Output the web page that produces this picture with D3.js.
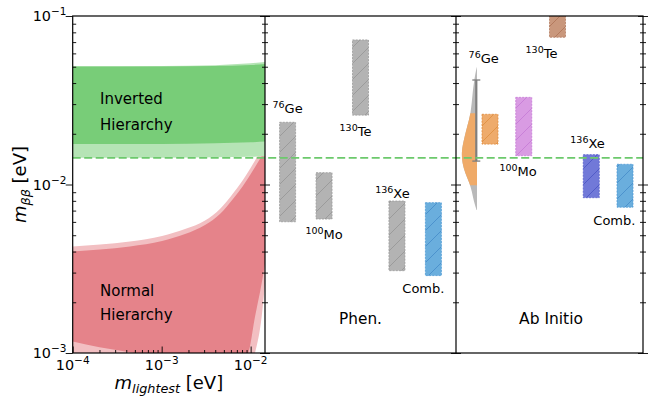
<!DOCTYPE html>
<html>
<head>
<meta charset="utf-8">
<script src="https://cdn.jsdelivr.net/npm/d3@7"></script>
<style>
body { margin: 0; background: #fff; }
text { font-family: "DejaVu Sans", sans-serif; fill: #000; }
</style>
</head>
<body>
<script>
// ---- data ----

// inverted hierarchy band (m_lightest -> m_bb)
const ih_x = [1e-4, 1e-3, 4e-3, 1e-2, 1.45e-2];
const ih_dark_top = [0.0501, 0.0502, 0.0505, 0.0512, 0.0519];
const ih_dark_bot = [0.01738, 0.0174, 0.0176, 0.0178, 0.0180];
const ih_light_top = [0.0503, 0.0505, 0.0511, 0.0524, 0.0533];
const ih_light_bot = [0.0144, 0.0144, 0.0145, 0.0146, 0.0147];

// normal hierarchy band, upper edge
const nh_top_x = [1e-4, 2.03e-4, 4.4e-4, 1.01e-3, 1.83e-3, 3.07e-3, 4.52e-3, 6.33e-3, 8.19e-3, 1.061e-2, 1.448e-2];
const nh_dark_top = [0.00400, 0.00411, 0.00429, 0.00462, 0.00508, 0.00575, 0.00668, 0.00820, 0.00980, 0.01211, 0.01591];
const nh_light_top = [0.00429, 0.00440, 0.00459, 0.00495, 0.00544, 0.00611, 0.00716, 0.00884, 0.01063, 0.01323, 0.01751];
// normal hierarchy band, lower edge (cancellation region)
const nh_bot_x = [1e-4, 2e-4, 4.4e-4, 1e-3, 1.6e-3, 2.7e-3, 4.5e-3, 7.6e-3, 9.4e-3, 1.12e-2, 1.33e-2, 1.45e-2];
const nh_dark_bot = [0.00117, 0.00108, 0.00101, 0.00094, 0.0009, 0.0009, 0.0009, 0.0009, 0.00100, 0.00164, 0.00259, 0.0034];
const nh_light_bot = [0.0008, 0.0008, 0.0008, 0.0008, 0.0008, 0.0008, 0.0008, 0.0008, 0.0008, 0.00100, 0.00164, 0.00259];

// horizontal dashed limit
const limit = 0.0144;

// isotopes
const isotopes = ['Ge', 'Mo', 'Te', 'Xe', 'Comb'];
const mass_numbers = ['76', '100', '130', '136', ''];
const names = ['Ge', 'Mo', 'Te', 'Xe', 'Comb.'];
const phen_lo = [0.00601, 0.00624, 0.0258, 0.00308, 0.00288];
const phen_hi = [0.0234, 0.01175, 0.0721, 0.00798, 0.0078];
const abi_lo = [0.01737, 0.01482, 0.0748, 0.00835, 0.00733];
const abi_hi = [0.0261, 0.0329, 0.12, 0.01503, 0.01318];

// Ge ab initio distribution (half violin)
const ge_dist_m = [0.0500, 0.0447, 0.0349, 0.0265, 0.0219, 0.0176, 0.01538, 0.01343, 0.0117, 0.01021, 0.00902, 0.00809, 0.00706];
const ge_dist_w = [0, 0.13, 0.29, 0.39, 0.65, 0.90, 1.0, 0.95, 0.77, 0.48, 0.32, 0.23, 0.03];
const ge_core = [0.0099, 0.0265];
const ge_err = [0.01377, 0.0417];

// ---- layout ----
const width = 652, height = 397;
const top_y = 16, bottom_y = 353;
const lx0 = 72.7, lx1 = 265, mx1 = 456, rx1 = 643;

const colors = {
    gray:   { fill: '#b3b3b3', hatch: '#909090', edge: '#9a9a9a' },
    blue:   { fill: '#6aaedd', hatch: '#3f85c6', edge: '#4f9ad6' },
    orange: { fill: '#eeab6c', hatch: '#db8a38', edge: '#e08b3c' },
    violet: { fill: '#d99be3', hatch: '#c274d2', edge: '#c77ad6' },
    brown:  { fill: '#c9977c', hatch: '#a96d52', edge: '#b27a5e' },
    indigo: { fill: '#7179d8', hatch: '#444dc0', edge: '#5860cc' }
};
const phen_colors = ['gray', 'gray', 'gray', 'gray', 'blue'];
const abi_colors = ['orange', 'violet', 'brown', 'indigo', 'blue'];

const svg = d3.select('body').append('svg')
    .attr('width', width)
    .attr('height', height);

const defs = svg.append('defs');
const hs = 16;
Object.entries(colors).forEach(([k, c]) => {
    defs.append('pattern')
        .attr('id', 'hatch-' + k)
        .attr('patternUnits', 'userSpaceOnUse')
        .attr('width', hs).attr('height', hs)
        .append('path')
            .attr('d', `M0,${hs} L${hs},0 M-3,3 L3,-3 M${hs - 3},${hs + 3} L${hs + 3},${hs - 3}`)
            .attr('stroke', c.hatch)
            .attr('stroke-width', 0.7)
            .attr('fill', 'none');
});
defs.append('clipPath').attr('id', 'clip-left')
    .append('rect').attr('x', lx0).attr('y', top_y).attr('width', lx1 - lx0).attr('height', bottom_y - top_y);
defs.append('clipPath').attr('id', 'clip-all')
    .append('rect').attr('x', lx0).attr('y', top_y).attr('width', rx1 - lx0).attr('height', bottom_y - top_y);

const y = d3.scaleLog().domain([1e-3, 1e-1]).range([bottom_y, top_y]);
const x = d3.scaleLog().domain([1e-4, 1.45e-2]).range([lx0, lx1]);
const x_phen = d3.scalePoint().domain(isotopes).range([lx1, mx1]).padding(0.62);
const x_abi = d3.scalePoint().domain(isotopes).range([mx1 + 34, rx1 - 18]);

// ---- left panel bands ----
const band = d3.area()
    .x(d => x(d[0]))
    .y0(d => y(d[1]))
    .y1(d => y(d[2]))
    .curve(d3.curveMonotoneX);
const edge = d3.line()
    .x(d => x(d[0]))
    .y(d => y(d[1]))
    .curve(d3.curveMonotoneX);

// closed shape: upper edge left->right, then lower edge right->left
function nh_shape(top, bot) {
    const upper = edge(d3.zip(nh_top_x, top));
    const lower = edge(d3.zip(nh_bot_x, bot).reverse());
    return upper + 'L' + lower.slice(1) + 'Z';
}

const left = svg.append('g').attr('clip-path', 'url(#clip-left)');
left.append('path').attr('d', nh_shape(nh_light_top, nh_light_bot)).attr('fill', '#f2bfc2');
left.append('path').attr('d', nh_shape(nh_dark_top, nh_dark_bot)).attr('fill', '#e5838a');
left.append('path').datum(d3.zip(ih_x, ih_light_bot, ih_light_top)).attr('d', band).attr('fill', '#b5e4b5');
left.append('path').datum(d3.zip(ih_x, ih_dark_bot, ih_dark_top)).attr('d', band).attr('fill', '#78cd78');

const band_text = [['Inverted', 'Hierarchy', 104, 130], ['Normal', 'Hierarchy', 296, 319.5]];
band_text.forEach(t => {
    svg.append('text').attr('x', 100).attr('y', t[2]).attr('font-size', 15).text(t[0]);
    svg.append('text').attr('x', 100).attr('y', t[3]).attr('font-size', 15).text(t[1]);
});

// ---- bars ----
const bar_w = 16;
function draw_bars(xs, lo, hi, cols) {
    const g = svg.append('g').attr('clip-path', 'url(#clip-all)');
    isotopes.forEach((iso, i) => {
        const c = colors[cols[i]];
        const x0 = xs(iso) - bar_w / 2;
        const y0 = y(hi[i]), y1 = y(lo[i]);
        g.append('rect').attr('x', x0).attr('y', y0).attr('width', bar_w).attr('height', y1 - y0)
            .attr('fill', c.fill);
        g.append('rect').attr('x', x0).attr('y', y0).attr('width', bar_w).attr('height', y1 - y0)
            .attr('fill', `url(#hatch-${cols[i]})`)
            .attr('stroke', c.edge)
            .attr('stroke-width', 0.8)
            .attr('stroke-dasharray', '2,1.2');
    });
}
draw_bars(x_phen, phen_lo, phen_hi, phen_colors);
draw_bars(x_abi, abi_lo, abi_hi, abi_colors);

// ---- Ge half violin ----
const vx = 477, vw = 15.5;
const violin = d3.area()
    .y(d => y(d[0]))
    .x0(vx)
    .x1(d => vx - d[1] * vw)
    .curve(d3.curveBasis);
const ge_dist = d3.zip(ge_dist_m, ge_dist_w);
svg.append('path').datum(ge_dist).attr('d', violin).attr('fill', '#b9b9b9');
defs.append('clipPath').attr('id', 'clip-core')
    .append('rect').attr('x', vx - 30).attr('y', y(ge_core[1])).attr('width', 30).attr('height', y(ge_core[0]) - y(ge_core[1]));
svg.append('path').datum(ge_dist).attr('d', violin).attr('fill', '#efaa68').attr('clip-path', 'url(#clip-core)');

const err = svg.append('g').attr('stroke', '#7f7f7f');
err.append('line').attr('x1', vx - 0.7).attr('x2', vx - 0.7).attr('y1', y(ge_err[1])).attr('y2', y(ge_err[0])).attr('stroke-width', 2.2);
ge_err.forEach(v => {
    err.append('line').attr('x1', vx - 4.7).attr('x2', vx + 3.3).attr('y1', y(v)).attr('y2', y(v)).attr('stroke-width', 1.3);
});

// ---- dashed limit ----
svg.append('line')
    .attr('x1', lx0).attr('x2', rx1)
    .attr('y1', y(limit)).attr('y2', y(limit))
    .attr('stroke', '#6cc96c')
    .attr('stroke-width', 1.8)
    .attr('stroke-dasharray', '8,3.5');

// ---- isotope labels ----
function iso_label(px, py, i) {
    const t = svg.append('text').attr('x', px).attr('y', py).attr('text-anchor', 'middle').attr('font-size', 13);
    if (mass_numbers[i]) t.append('tspan').attr('font-size', 9.5).attr('dy', -5).text(mass_numbers[i]);
    t.append('tspan').attr('dy', mass_numbers[i] ? 5 : 0).text(names[i]);
}
// [dx, relative to top?, dy]
const phen_lab = [[0, 1, -9], [0, 0, 20], [-5, 0, 21], [-4.5, 1, -2.7], [-10, 0, 17.6]];
const abi_lab = [[0, 1, 0], [-5.7, 0, 20.3], [-16, 0, 21], [-3.7, 1, -7], [-10.6, 0, 17.7]];
isotopes.forEach((iso, i) => {
    const p = phen_lab[i];
    iso_label(x_phen(iso) + p[0], (p[1] ? y(phen_hi[i]) : y(phen_lo[i])) + p[2], i);
});
isotopes.forEach((iso, i) => {
    const p = abi_lab[i];
    if (i === 0) { iso_label(483.7, y(ge_dist_m[0]) - 3.4, 0); return; }
    iso_label(x_abi(iso) + p[0], (p[1] ? y(abi_hi[i]) : y(abi_lo[i])) + p[2], i);
});

svg.append('text').attr('x', 360.5).attr('y', 324).attr('text-anchor', 'middle').attr('font-size', 15.3).text('Phen.');
svg.append('text').attr('x', 551).attr('y', 324).attr('text-anchor', 'middle').attr('font-size', 15.5).text('Ab Initio');

// ---- frames and ticks ----
const is_pow = v => Math.abs(Math.log10(v) - Math.round(Math.log10(v))) < 1e-6;
const y_ticks = y.ticks();
const y_major = y_ticks.filter(is_pow);
const y_minor = y_ticks.filter(v => !is_pow(v));
const x_ticks = x.ticks();
const x_major = x_ticks.filter(is_pow);
const x_minor = x_ticks.filter(v => !is_pow(v));

function tick_axis(axis, vals, size, tx, ty) {
    const g = svg.append('g')
        .attr('transform', `translate(${tx},${ty})`)
        .call(axis.tickValues(vals).tickSize(size).tickFormat(''));
    g.select('.domain').remove();
    g.selectAll('line').attr('stroke', '#000').attr('stroke-width', 0.9);
}
// left edge: majors outside, minors inside
tick_axis(d3.axisLeft(y), y_major, 7, lx0, 0);
tick_axis(d3.axisRight(y), y_minor, 3.5, lx0, 0);
// internal edges and right edge: crossing ticks
[lx1, mx1, rx1].forEach(ex => {
    tick_axis(d3.axisRight(y), y_major, 5, ex, 0);
    tick_axis(d3.axisLeft(y), y_major, 5, ex, 0);
    tick_axis(d3.axisRight(y), y_minor, 3, ex, 0);
    tick_axis(d3.axisLeft(y), y_minor, 3, ex, 0);
});
// bottom of left panel: inward ticks
tick_axis(d3.axisTop(x), x_major, 6.5, 0, bottom_y);
tick_axis(d3.axisTop(x), x_minor, 3, 0, bottom_y);

svg.append('rect').attr('x', lx0).attr('y', top_y).attr('width', rx1 - lx0).attr('height', bottom_y - top_y)
    .attr('fill', 'none').attr('stroke', '#000').attr('stroke-width', 1.2);
[lx1, mx1].forEach(ex => {
    svg.append('line').attr('x1', ex).attr('x2', ex).attr('y1', top_y).attr('y2', bottom_y)
        .attr('stroke', '#000').attr('stroke-width', 1.2);
});

// tick labels
function pow_label(px, py, anchor, exp) {
    const t = svg.append('text').attr('x', px).attr('y', py).attr('text-anchor', anchor).attr('font-size', 14.4);
    t.append('tspan').text('10');
    t.append('tspan').attr('font-size', 10.5).attr('dy', -6).text('\u2212' + exp);
}
y_major.forEach(v => pow_label(66.5, y(v) + 5.3, 'end', -Math.round(Math.log10(v))));
x_major.forEach(v => pow_label(x(v), 370, 'middle', -Math.round(Math.log10(v))));

// axis titles
const yl = svg.append('text').attr('transform', `translate(26,${(top_y + bottom_y) / 2}) rotate(-90)`)
    .attr('text-anchor', 'middle').attr('font-size', 18);
yl.append('tspan').attr('font-style', 'italic').text('m');
yl.append('tspan').attr('font-style', 'italic').attr('font-size', 12.8).attr('dy', 4).text('\u03b2\u03b2');
yl.append('tspan').attr('dy', -4).text(' [eV]');

const xl = svg.append('text').attr('x', (lx0 + lx1) / 2).attr('y', 389)
    .attr('text-anchor', 'middle').attr('font-size', 18);
xl.append('tspan').attr('font-style', 'italic').text('m');
xl.append('tspan').attr('font-style', 'italic').attr('font-size', 12.8).attr('dy', 4).text('lightest');
xl.append('tspan').attr('dy', -4).text(' [eV]');
</script>
</body>
</html>
